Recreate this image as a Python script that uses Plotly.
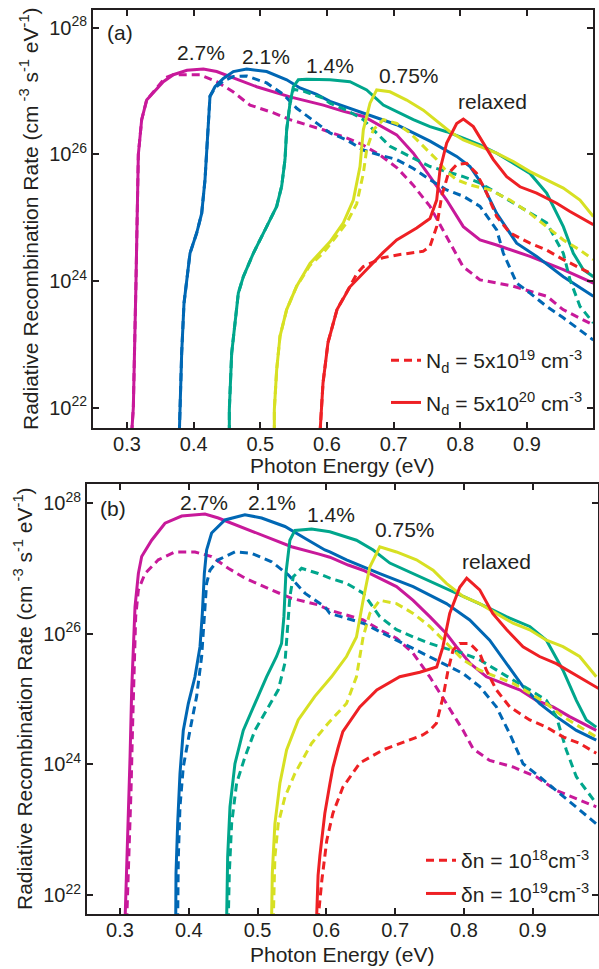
import numpy as np
import plotly.graph_objects as go

# ---------------- data (photon energy in eV, log10 of rate) ----------------
# Panel (a): Nd = 5e19 (dashed), Nd = 5e20 (solid)
a_mag_solid_E = [0.307, 0.3095, 0.3135, 0.317, 0.322, 0.3295, 0.3545, 0.3695, 0.390, 0.4145, 0.4345, 0.4945, 0.5445, 0.5945, 0.625, 0.655, 0.7045, 0.7295, 0.7545, 0.7795, 0.8045, 0.8295, 0.8545, 0.9045, 0.9545, 0.9995]
a_mag_solid_L = [21.6, 22.0, 24.0, 26.0, 26.55, 26.86, 27.15, 27.26, 27.33, 27.35, 27.31, 27.07, 26.91, 26.78, 26.68, 26.60, 26.31, 26.02, 25.65, 25.28, 24.86, 24.65, 24.57, 24.39, 24.18, 23.97]
a_mag_dash_E = [0.307, 0.3095, 0.3135, 0.317, 0.322, 0.3295, 0.357, 0.369, 0.4095, 0.4345, 0.459, 0.4845, 0.519, 0.5445, 0.594, 0.63, 0.654, 0.6795, 0.705, 0.729, 0.7545, 0.78, 0.804, 0.8295, 0.879, 0.93, 0.954, 0.999]
a_mag_dash_L = [21.6, 22.0, 24.0, 26.0, 26.55, 26.86, 27.21, 27.26, 27.26, 27.15, 26.99, 26.78, 26.66, 26.55, 26.39, 26.26, 26.15, 25.99, 25.79, 25.52, 25.18, 24.70, 24.23, 24.02, 23.92, 23.76, 23.55, 23.31]
a_blu_solid_E = [0.3785, 0.3795, 0.382, 0.3855, 0.3895, 0.3945, 0.4045, 0.412, 0.417, 0.4195, 0.422, 0.4245, 0.432, 0.4445, 0.4595, 0.4795, 0.5095, 0.5395, 0.5595, 0.5845, 0.6045, 0.6545, 0.7045, 0.7545, 0.7945, 0.8145, 0.8345, 0.8545, 0.8845, 0.9145, 0.9545, 0.9995]
a_blu_solid_L = [21.6, 22.07, 22.86, 23.65, 24.02, 24.44, 24.76, 25.07, 25.60, 26.02, 26.55, 26.92, 27.07, 27.20, 27.31, 27.35, 27.31, 27.18, 27.05, 26.95, 26.84, 26.65, 26.47, 26.21, 25.97, 25.81, 25.50, 25.07, 24.60, 24.39, 24.07, 23.76]
a_blu_dash_E = [0.3785, 0.3795, 0.382, 0.3855, 0.3895, 0.3945, 0.4045, 0.412, 0.417, 0.4195, 0.422, 0.4245, 0.432, 0.4445, 0.4595, 0.4795, 0.5095, 0.5345, 0.5545, 0.5845, 0.6045, 0.6295, 0.6545, 0.6795, 0.7045, 0.7295, 0.7545, 0.7795, 0.8045, 0.8295, 0.8545, 0.8645, 0.8845, 0.9045, 0.9295, 0.9545, 0.9795, 0.9995]
a_blu_dash_L = [21.6, 22.07, 22.86, 23.65, 24.02, 24.44, 24.76, 25.07, 25.60, 26.02, 26.55, 26.92, 27.05, 27.16, 27.23, 27.24, 27.13, 26.95, 26.73, 26.50, 26.34, 26.23, 26.07, 25.99, 25.92, 25.78, 25.60, 25.44, 25.34, 25.18, 24.81, 24.44, 23.97, 23.81, 23.60, 23.42, 23.23, 23.07]
a_teal_solid_E = [0.4535, 0.4535, 0.457, 0.462, 0.467, 0.4745, 0.4895, 0.5095, 0.5245, 0.532, 0.537, 0.5395, 0.5445, 0.5495, 0.557, 0.5695, 0.5945, 0.6045, 0.6345, 0.6595, 0.6845, 0.7045, 0.7295, 0.7545, 0.7795, 0.8045, 0.8295, 0.8545, 0.8795, 0.9045, 0.9295, 0.9545, 0.9695, 0.9845, 0.9995]
a_teal_solid_L = [21.6, 21.97, 22.86, 23.39, 23.81, 24.07, 24.44, 24.86, 25.18, 25.50, 25.92, 26.39, 26.81, 27.07, 27.18, 27.19, 27.18, 27.18, 27.15, 27.02, 26.78, 26.68, 26.55, 26.44, 26.36, 26.26, 26.15, 26.02, 25.86, 25.70, 25.39, 24.86, 24.44, 24.18, 24.07]
a_teal_dash_E = [0.4535, 0.4535, 0.457, 0.462, 0.467, 0.4745, 0.4895, 0.5095, 0.5245, 0.532, 0.537, 0.5395, 0.5445, 0.5495, 0.5645, 0.5945, 0.6045, 0.6295, 0.6545, 0.6695, 0.6945, 0.7295, 0.7545, 0.7795, 0.8045, 0.8295, 0.8545, 0.8795, 0.9045, 0.9295, 0.9545, 0.9645, 0.9795, 0.9995]
a_teal_dash_L = [21.6, 21.97, 22.86, 23.39, 23.81, 24.07, 24.44, 24.86, 25.18, 25.50, 25.92, 26.39, 26.81, 27.03, 27.0, 26.89, 26.81, 26.70, 26.55, 26.39, 26.13, 25.94, 25.81, 25.73, 25.65, 25.55, 25.39, 25.23, 25.07, 24.92, 24.44, 24.02, 23.60, 23.34]
a_yel_solid_E = [0.521, 0.521, 0.5245, 0.5295, 0.5395, 0.5545, 0.5745, 0.5945, 0.6045, 0.6245, 0.6395, 0.6495, 0.6545, 0.6645, 0.6745, 0.6945, 0.7195, 0.7445, 0.7695, 0.7845, 0.8045, 0.8295, 0.8545, 0.8795, 0.9045, 0.9295, 0.9545, 0.9795, 0.9995]
a_yel_solid_L = [21.6, 21.97, 22.6, 23.13, 23.55, 23.92, 24.28, 24.50, 24.62, 24.92, 25.28, 25.81, 26.39, 26.81, 27.02, 26.99, 26.86, 26.70, 26.49, 26.36, 26.23, 26.13, 26.02, 25.89, 25.73, 25.60, 25.47, 25.28, 25.02]
a_yel_dash_E = [0.521, 0.521, 0.5245, 0.5295, 0.5395, 0.5545, 0.5745, 0.5945, 0.6045, 0.6295, 0.6445, 0.6545, 0.6595, 0.6695, 0.6845, 0.7045, 0.7245, 0.7445, 0.7645, 0.7795, 0.7945, 0.8145, 0.8445, 0.8745, 0.9045, 0.9295, 0.9545, 0.9795, 0.9995]
a_yel_dash_L = [21.6, 21.97, 22.6, 23.13, 23.55, 23.92, 24.25, 24.45, 24.58, 24.92, 25.22, 25.70, 26.08, 26.39, 26.55, 26.49, 26.34, 26.13, 25.92, 25.73, 25.60, 25.52, 25.44, 25.28, 25.07, 24.86, 24.65, 24.49, 24.34]
a_red_solid_E = [0.5895, 0.5925, 0.594, 0.6015, 0.615, 0.6345, 0.66, 0.684, 0.7045, 0.7345, 0.7545, 0.7645, 0.7695, 0.7795, 0.7945, 0.8045, 0.8195, 0.8345, 0.8495, 0.8695, 0.8895, 0.9145, 0.9445, 0.9645, 0.9995]
a_red_solid_L = [21.6, 22.13, 22.39, 23.03, 23.55, 23.91, 24.18, 24.45, 24.65, 24.84, 24.99, 25.28, 25.76, 26.18, 26.49, 26.56, 26.44, 26.18, 25.92, 25.65, 25.49, 25.39, 25.23, 25.10, 24.89]
a_red_dash_E = [0.5895, 0.5925, 0.594, 0.6015, 0.615, 0.6345, 0.645, 0.6545, 0.684, 0.7095, 0.744, 0.7545, 0.7645, 0.772, 0.782, 0.7945, 0.8095, 0.8245, 0.8395, 0.8545, 0.8745, 0.9045, 0.9295, 0.9545, 0.9795, 0.9995]
a_red_dash_L = [21.6, 22.13, 22.39, 23.03, 23.55, 23.92, 24.12, 24.23, 24.37, 24.42, 24.47, 24.55, 24.86, 25.34, 25.70, 25.84, 25.86, 25.70, 25.39, 25.02, 24.76, 24.60, 24.49, 24.34, 24.20, 24.10]

# Panel (b): dn = 1e18 (dashed), dn = 1e19 (solid)
b_mag_solid_E = [0.3073, 0.3097, 0.3121, 0.3146, 0.317, 0.3194, 0.3218, 0.3267, 0.3315, 0.346, 0.3654, 0.3896, 0.4235, 0.4429, 0.4816, 0.5107, 0.5494, 0.5882, 0.6051, 0.6318, 0.6535, 0.702, 0.7262, 0.7504, 0.7746, 0.7891, 0.8085, 0.8327, 0.8569, 0.8811, 0.9053, 0.9296, 0.9538, 0.9925]
b_mag_solid_L = [21.6, 22.33, 23.09, 24.11, 25.14, 25.90, 26.41, 26.92, 27.18, 27.43, 27.69, 27.80, 27.83, 27.77, 27.61, 27.48, 27.33, 27.22, 27.17, 27.05, 26.97, 26.72, 26.51, 26.26, 26.00, 25.80, 25.55, 25.34, 25.24, 25.14, 24.98, 24.88, 24.73, 24.52]
b_mag_dash_E = [0.3097, 0.3131, 0.316, 0.3184, 0.3209, 0.3228, 0.3267, 0.3364, 0.3557, 0.38, 0.409, 0.4332, 0.4574, 0.4816, 0.5155, 0.5494, 0.5882, 0.6051, 0.6535, 0.6777, 0.702, 0.7262, 0.7504, 0.7746, 0.7988, 0.8133, 0.8375, 0.8714, 0.9053, 0.9344, 0.9635, 0.9925]
b_mag_dash_L = [21.6, 22.58, 23.60, 24.63, 25.65, 26.26, 26.67, 26.92, 27.13, 27.25, 27.25, 27.18, 27.00, 26.85, 26.69, 26.54, 26.44, 26.36, 26.21, 26.06, 25.93, 25.70, 25.34, 24.93, 24.52, 24.24, 24.06, 23.96, 23.81, 23.60, 23.48, 23.35]
b_blu_solid_E = [0.381, 0.3814, 0.3838, 0.3872, 0.392, 0.3993, 0.409, 0.4163, 0.4197, 0.4226, 0.4259, 0.4332, 0.4526, 0.4816, 0.5059, 0.5398, 0.5688, 0.5979, 0.6051, 0.6293, 0.6777, 0.7262, 0.7746, 0.8085, 0.8375, 0.8617, 0.886, 0.9102, 0.9344, 0.9635, 0.9925]
b_blu_solid_L = [21.6, 22.33, 23.09, 23.86, 24.52, 24.93, 25.34, 25.80, 26.31, 26.92, 27.28, 27.54, 27.74, 27.82, 27.77, 27.64, 27.46, 27.28, 27.25, 27.13, 26.92, 26.72, 26.46, 26.21, 25.90, 25.55, 25.19, 24.93, 24.73, 24.52, 24.37]
b_blu_dash_E = [0.3838, 0.3848, 0.3872, 0.392, 0.4017, 0.4114, 0.4187, 0.4226, 0.4259, 0.4308, 0.4429, 0.4671, 0.4913, 0.5204, 0.5446, 0.5688, 0.5979, 0.6051, 0.6535, 0.702, 0.7504, 0.7988, 0.823, 0.8472, 0.8666, 0.886, 0.9102, 0.9344, 0.9635, 0.9925]
b_blu_dash_L = [21.6, 22.58, 23.35, 23.96, 24.52, 25.04, 25.65, 26.26, 26.77, 26.97, 27.13, 27.25, 27.23, 27.10, 26.90, 26.62, 26.41, 26.31, 26.16, 25.90, 25.65, 25.39, 25.19, 24.88, 24.47, 24.01, 23.81, 23.60, 23.35, 23.09]
b_teal_solid_E = [0.455, 0.4565, 0.4599, 0.4671, 0.4792, 0.4962, 0.5131, 0.5276, 0.5349, 0.5383, 0.5412, 0.547, 0.5543, 0.5785, 0.6051, 0.6438, 0.6681, 0.6923, 0.7262, 0.7649, 0.7988, 0.8327, 0.8617, 0.8957, 0.92, 0.9441, 0.9635, 0.978, 0.9925]
b_teal_solid_L = [21.6, 22.58, 23.35, 24.01, 24.52, 24.93, 25.34, 25.65, 25.85, 26.26, 26.92, 27.43, 27.58, 27.60, 27.56, 27.43, 27.28, 27.08, 26.92, 26.74, 26.57, 26.41, 26.26, 26.11, 25.90, 25.44, 24.98, 24.68, 24.57]
b_teal_dash_E = [0.4574, 0.4589, 0.4623, 0.4695, 0.4816, 0.4962, 0.5131, 0.5301, 0.5398, 0.5436, 0.547, 0.5519, 0.564, 0.5882, 0.6051, 0.6293, 0.6535, 0.6777, 0.702, 0.7262, 0.7504, 0.7746, 0.7988, 0.823, 0.8472, 0.8714, 0.8957, 0.9199, 0.9344, 0.9489, 0.9635, 0.9925]
b_teal_dash_L = [21.6, 22.33, 23.09, 23.71, 24.11, 24.52, 24.83, 25.14, 25.55, 26.06, 26.57, 26.87, 27.00, 26.92, 26.85, 26.77, 26.62, 26.26, 26.06, 25.95, 25.85, 25.77, 25.70, 25.60, 25.44, 25.29, 25.14, 24.98, 24.73, 24.22, 23.81, 23.40]
b_yel_solid_E = [0.5204, 0.5214, 0.5252, 0.5325, 0.5422, 0.5591, 0.5833, 0.6075, 0.6293, 0.6438, 0.6535, 0.6632, 0.6777, 0.702, 0.731, 0.7552, 0.7746, 0.7988, 0.823, 0.8472, 0.8714, 0.8957, 0.92, 0.9441, 0.9683, 0.9925]
b_yel_solid_L = [21.6, 22.33, 23.09, 23.71, 24.22, 24.68, 25.04, 25.34, 25.65, 25.95, 26.51, 27.02, 27.33, 27.25, 27.13, 26.97, 26.77, 26.57, 26.46, 26.31, 26.16, 26.06, 25.90, 25.80, 25.65, 25.34]
b_yel_dash_E = [0.5228, 0.5252, 0.53, 0.5398, 0.5543, 0.5785, 0.6027, 0.6293, 0.6438, 0.6535, 0.6632, 0.6777, 0.702, 0.7262, 0.7504, 0.7746, 0.7988, 0.823, 0.8472, 0.8714, 0.8957, 0.92, 0.9441, 0.9683, 0.9925]
b_yel_dash_L = [21.6, 22.58, 23.09, 23.50, 23.86, 24.32, 24.63, 24.93, 25.34, 25.95, 26.31, 26.51, 26.46, 26.31, 26.11, 25.85, 25.60, 25.44, 25.34, 25.24, 25.09, 24.93, 24.73, 24.57, 24.42]
b_red_solid_E = [0.5857, 0.588, 0.5906, 0.5978, 0.6051, 0.6095, 0.617, 0.624, 0.6487, 0.6734, 0.7068, 0.7359, 0.7605, 0.7693, 0.7794, 0.794, 0.8041, 0.823, 0.8419, 0.8623, 0.886, 0.91, 0.9344, 0.9586, 0.996]
b_red_solid_L = [21.6, 22.3, 22.6, 23.25, 23.7, 23.95, 24.25, 24.5, 24.88, 25.14, 25.34, 25.41, 25.49, 25.79, 26.31, 26.71, 26.85, 26.67, 26.31, 26.06, 25.80, 25.65, 25.54, 25.39, 25.16]
b_red_dash_E = [0.5877, 0.5935, 0.6007, 0.6095, 0.624, 0.6487, 0.6821, 0.7068, 0.7402, 0.7504, 0.7601, 0.7697, 0.777, 0.7843, 0.794, 0.8085, 0.823, 0.8327, 0.8472, 0.8666, 0.8957, 0.92, 0.9441, 0.9683, 0.9925]
b_red_dash_L = [21.6, 22.23, 22.84, 23.25, 23.65, 24.02, 24.22, 24.32, 24.45, 24.52, 24.63, 25.03, 25.44, 25.75, 25.85, 25.85, 25.70, 25.44, 25.14, 24.88, 24.68, 24.57, 24.42, 24.32, 24.17]

strain_labels = ["2.7%", "2.1%", "1.4%", "0.75%", "relaxed"]
x_tick_vals = [0.3, 0.4, 0.5, 0.6, 0.7, 0.8, 0.9]
x_tick_text = ["0.3", "0.4", "0.5", "0.6", "0.7", "0.8", "0.9"]
y_tick_exps = [22, 24, 26, 28]
legend_a = ["N<sub>d</sub> = 5x10<sup>19</sup> cm<sup>-3</sup>", "N<sub>d</sub> = 5x10<sup>20</sup> cm<sup>-3</sup>"]
legend_b = ["\u03b4n = 10<sup>18</sup>cm<sup>-3</sup>", "\u03b4n = 10<sup>19</sup>cm<sup>-3</sup>"]

# ---------------- styling ----------------
MAG, BLU, TEAL, YEL, RED = "#C8199A", "#0067B4", "#00A68C", "#D7E023", "#EE2024"
INK = "#231F20"
FONT = "Liberation Sans, Arial, Helvetica, sans-serif"
DASH = "8px,5px"
LW = 3

panel_a = [
    (a_mag_dash_E, a_mag_dash_L, MAG, DASH, None),
    (a_mag_solid_E, a_mag_solid_L, MAG, "solid", None),
    (a_blu_dash_E, a_blu_dash_L, BLU, DASH, None),
    (a_blu_solid_E, a_blu_solid_L, BLU, "solid", None),
    (a_teal_dash_E, a_teal_dash_L, TEAL, DASH, None),
    (a_teal_solid_E, a_teal_solid_L, TEAL, "solid", None),
    (a_yel_dash_E, a_yel_dash_L, YEL, DASH, None),
    (a_yel_solid_E, a_yel_solid_L, YEL, "solid", None),
    (a_red_dash_E, a_red_dash_L, RED, DASH, legend_a[0]),
    (a_red_solid_E, a_red_solid_L, RED, "solid", legend_a[1]),
]
panel_b = [
    (b_mag_dash_E, b_mag_dash_L, MAG, DASH, None),
    (b_mag_solid_E, b_mag_solid_L, MAG, "solid", None),
    (b_blu_dash_E, b_blu_dash_L, BLU, DASH, None),
    (b_blu_solid_E, b_blu_solid_L, BLU, "solid", None),
    (b_teal_dash_E, b_teal_dash_L, TEAL, DASH, None),
    (b_teal_solid_E, b_teal_solid_L, TEAL, "solid", None),
    (b_yel_dash_E, b_yel_dash_L, YEL, DASH, None),
    (b_yel_solid_E, b_yel_solid_L, YEL, "solid", None),
    (b_red_dash_E, b_red_dash_L, RED, DASH, legend_b[0]),
    (b_red_solid_E, b_red_solid_L, RED, "solid", legend_b[1]),
]

fig = go.Figure()
for panel, xa, ya, leg, tag in [(panel_a, "x", "y", "legend", "a"), (panel_b, "x2", "y2", "legend2", "b")]:
    for i, (E, L, col, dash, name) in enumerate(panel):
        n = min(len(E), len(L))
        fig.add_trace(go.Scatter(x=E[:n], y=10 ** np.array(L[:n]), mode="lines",
                                 line=dict(color=col, width=LW, dash=dash),
                                 xaxis=xa, yaxis=ya, name=name or "",
                                 showlegend=name is not None, legend=leg,
                                 legendgroup="%s%d" % (tag, i),
                                 hoverinfo="skip"))

W, H = 599, 969
def px(v): return v / W
def py(v): return 1 - v / H

common_x = dict(tickvals=x_tick_vals, ticktext=x_tick_text, ticks="inside", ticklen=6,
                tickwidth=1.5, tickcolor=INK, showline=True, linewidth=2, linecolor=INK,
                mirror="ticks", showgrid=False, zeroline=False, ticklabelstandoff=-3,
                tickfont=dict(family=FONT, size=20, color=INK), automargin=False)
common_y = dict(type="log", tickvals=[10.0 ** e for e in y_tick_exps],
                ticktext=["10<sup>%d</sup>" % e for e in y_tick_exps],
                ticks="inside", ticklen=6, tickwidth=1.5, tickcolor=INK,
                showline=True, linewidth=2, linecolor=INK, mirror="ticks",
                showgrid=False, zeroline=False,
                tickfont=dict(family=FONT, size=20, color=INK), automargin=False)

fig.update_layout(
    width=W, height=H, margin=dict(l=0, r=0, t=0, b=0),
    paper_bgcolor="white", plot_bgcolor="white",
    font=dict(family=FONT, size=20, color=INK),
    xaxis=dict(domain=[px(93), px(593)], range=[0.249, 0.999], anchor="y", **common_x),
    yaxis=dict(domain=[py(428), py(9.5)], range=[21.68, 28.29], anchor="x", **common_y),
    xaxis2=dict(domain=[px(87), px(598)], range=[0.252, 0.995], anchor="y2", **common_x),
    yaxis2=dict(domain=[py(914), py(484)], range=[21.71, 28.29], anchor="x2", **common_y),
    legend=dict(x=px(588), y=py(340), xanchor="right", yanchor="top",
                bgcolor="rgba(0,0,0,0)", font=dict(family=FONT, size=21, color=INK),
                itemwidth=30, tracegroupgap=12),
    legend2=dict(x=px(595), y=py(840), xanchor="right", yanchor="top",
                 bgcolor="rgba(0,0,0,0)", font=dict(family=FONT, size=21, color=INK),
                 itemwidth=30, tracegroupgap=3),
    showlegend=True,
)

ann = []
AF = dict(family=FONT, size=21, color=INK)
a_label_pos = [(0.411, 27.61), (0.5085, 27.54), (0.6045, 27.40), (0.723, 27.24), (0.8475, 26.83)]
b_label_pos = [(0.422, 28.01), (0.5208, 28.01), (0.6066, 27.82), (0.714, 27.59), (0.8477, 27.11)]
for t, (x, y) in zip(strain_labels, a_label_pos):
    ann.append(dict(text=t, x=x, y=y, xref="x", yref="y", showarrow=False, font=AF))
for t, (x, y) in zip(strain_labels, b_label_pos):
    ann.append(dict(text=t, x=x, y=y, xref="x2", yref="y2", showarrow=False, font=AF))
ann.append(dict(text="(a)", x=0.2895, y=27.92, xref="x", yref="y", showarrow=False, font=AF))
ann.append(dict(text="(b)", x=0.2898, y=27.92, xref="x2", yref="y2", showarrow=False, font=AF))
ytitle = "Radiative Recombination Rate (cm<sup> -3</sup> s<sup>-1</sup> eV<sup>-1</sup>)"
ann.append(dict(text=ytitle, x=px(29), y=py(219), xref="paper", yref="paper", textangle=-90,
                showarrow=False, xanchor="center", yanchor="middle", font=AF))
ann.append(dict(text=ytitle, x=px(23), y=py(699), xref="paper", yref="paper", textangle=-90,
                showarrow=False, xanchor="center", yanchor="middle", font=AF))
ann.append(dict(text="Photon Energy (eV)", x=px(342), y=py(465), xref="paper", yref="paper",
                showarrow=False, xanchor="center", yanchor="middle", font=AF))
ann.append(dict(text="Photon Energy (eV)", x=px(342), y=py(954), xref="paper", yref="paper",
                showarrow=False, xanchor="center", yanchor="middle", font=AF))
fig.update_layout(annotations=ann)

fig.write_html("out.html")
